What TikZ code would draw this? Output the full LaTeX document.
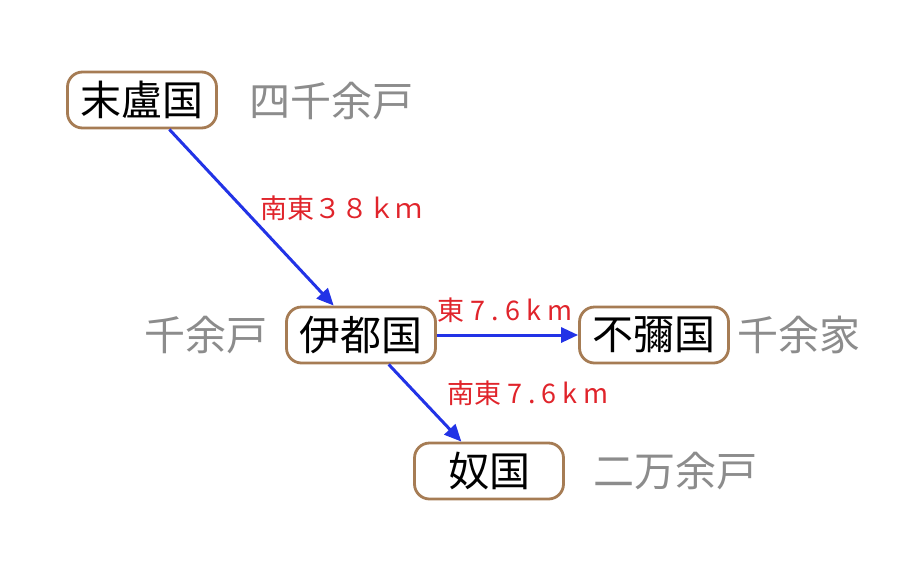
\documentclass[tikz,border=0pt]{standalone}
\usepackage{fontspec}
\setmainfont{Noto Sans CJK JP}
\usetikzlibrary{arrows.meta}
\definecolor{boxbrown}{RGB}{166,124,84}
\definecolor{arrowblue}{RGB}{34,51,230}
\definecolor{labelred}{RGB}{224,36,43}
\definecolor{housegray}{RGB}{140,140,140}
\newcommand\trk{\kern6pt}
\tikzset{
    country/.style={draw=boxbrown, line width=2.8pt, rounded corners=15pt, fill=white,
        minimum width=149pt, minimum height=56pt, inner sep=0pt, font=\fontsize{41}{44}\selectfont},
    houses/.style={text=housegray, inner sep=0pt, font=\fontsize{41}{44}\selectfont},
    route/.style={text=labelred, inner sep=0pt, font=\fontsize{27}{29}\selectfont},
    link/.style={->, draw=arrowblue, line width=3pt}
}
\begin{document}
\begin{tikzpicture}[x=1pt, y=-1pt, >={Triangle[length=17pt,width=15pt]}]
    \useasboundingbox (0,0) rectangle (902,582);
    % countries
    \node[country] (matsuro) at (142,100) {末盧国};
    \node[country] (ito) at (361,335) {伊都国};
    \node[country] (fumi) at (654,335) {不彌国};
    \node[country] (na) at (489,471) {奴国};
    % households
    \node[houses] (matsuroh) at (331,101) {四千余戸};
    \node[houses] (itoh) at (206,335) {千余戸};
    \node[houses] (fumih) at (799,335) {千余家};
    \node[houses] (nah) at (675,471) {二万余戸};
    % routes
    \draw[link] (matsuro) -- (ito);
    \draw[link] (ito) -- (fumi);
    \draw[link] (ito) -- (na);
    \node[route] (r1) at (341,208) {南東３８ｋｍ};
    \node[route] (r2) at (505,310) {東\trk 7\trk.\trk 6\trk k\trk m};
    \node[route] (r3) at (528,393) {南東\trk 7\trk.\trk 6\trk k\trk m};
\end{tikzpicture}
\end{document}
